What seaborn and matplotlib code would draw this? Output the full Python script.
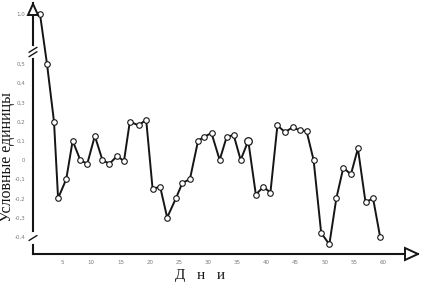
import numpy as np
import pandas as pd
import seaborn as sns
import matplotlib
matplotlib.use("Agg")
import matplotlib.pyplot as plt
from matplotlib.patches import Polygon

# ---- data ----
days = [1.2, 2.4, 3.6, 4.3, 5.7, 6.8, 8.1, 9.3, 10.6, 11.9, 13.1, 14.4, 15.6,
        16.6, 18.1, 19.4, 20.5, 21.8, 23.0, 24.5, 25.6, 26.9, 28.3, 29.3, 30.6,
        32.0, 33.2, 34.4, 35.6, 36.9, 38.2, 39.5, 40.7, 41.9, 43.2, 44.5, 45.7,
        46.9, 48.1, 49.4, 50.8, 52.0, 53.2, 54.5, 55.7, 57.0, 58.3, 59.5]
values = [1.0, 0.5, 0.2, -0.2, -0.1, 0.1, 0.0, -0.02, 0.125, 0.0, -0.02, 0.02, -0.005,
          0.2, 0.18, 0.21, -0.15, -0.14, -0.3, -0.2, -0.12, -0.1, 0.1, 0.12, 0.14,
          0.0, 0.12, 0.13, 0.0, 0.1, -0.18, -0.14, -0.17, 0.18, 0.145, 0.17, 0.155,
          0.15, 0.0, -0.38, -0.44, -0.2, -0.04, -0.075, 0.06, -0.22, -0.2, -0.4]
big_marker_day = [36.9]
big_marker_value = [0.1]
x_ticks = [5, 10, 15, 20, 25, 30, 35, 40, 45, 50, 55, 60]
x_tick_labels = [str(t) for t in x_ticks]
y_ticks = [-0.4, -0.3, -0.2, -0.1, 0.0, 0.1, 0.2, 0.3, 0.4, 0.5, 1.0]
y_tick_labels = ["-0,4", "-0,3", "-0,2", "-0,1", "0", "0,1", "0,2", "0,3", "0,4", "0,5", "1,0"]
y_label = "Условные единицы"
x_label = "Д   н   и"

df = pd.DataFrame({"day": days, "value": values})
df_big = pd.DataFrame({"day": big_marker_day, "value": big_marker_value})

sns.set_style("white")
plt.rcParams["font.family"] = ["DejaVu Sans"]

W, H = 421, 282
fig = plt.figure(figsize=(W / 100, H / 100), dpi=100)
ax = fig.add_axes([33 / W, 28 / H, 385 / W, 251 / H])


def fwd(v):
    v = np.asarray(v, float)
    return np.where(v <= 0.5, v, 0.5 + (v - 0.5) * 0.52)


def inv(t):
    t = np.asarray(t, float)
    return np.where(t <= 0.5, t, 0.5 + (t - 0.5) / 0.52)


ax.set_yscale("function", functions=(fwd, inv))

sns.lineplot(data=df, x="day", y="value", ax=ax, color="#151515", lw=1.4,
             marker="o", markersize=4, markerfacecolor="white",
             markeredgecolor="#151515", markeredgewidth=0.8,
             sort=False, estimator=None)
sns.scatterplot(data=df_big, x="day", y="value", ax=ax, s=30, color="white",
                edgecolor="#151515", linewidth=0.9, zorder=5)

ax.set_xlim(0, 66.0)
ax.set_ylim(-0.49, 1.1115)
ax.set_xticks(x_ticks)
ax.set_xticklabels(x_tick_labels)
ax.set_yticks(y_ticks)
ax.set_yticklabels(y_tick_labels)
ax.set_xlabel("")
ax.set_ylabel("")
ax.minorticks_off()

for s in ["top", "right"]:
    ax.spines[s].set_visible(False)
for s in ["left", "bottom"]:
    ax.spines[s].set_linewidth(1.5)
    ax.spines[s].set_color("#151515")

ax.tick_params(axis="x", direction="in", length=5.5, width=1.3, color="#151515",
               labelsize=4, labelcolor="#7a7a7a", pad=4)
ax.tick_params(axis="y", direction="out", length=4.5, width=1.3, color="#151515",
               labelsize=4, labelcolor="#7a7a7a", pad=1)

# open arrow heads at axis ends
aw, ah = 385.0, 251.0
ytri = Polygon([[0, 1 - 1 / ah], [-5 / aw, 1 - 12 / ah], [5 / aw, 1 - 12 / ah]], closed=True,
               fc="white", ec="#151515", lw=1.4, transform=ax.transAxes,
               clip_on=False, zorder=6)
xtri = Polygon([[1, 0], [1 - 13 / aw, 6 / ah], [1 - 13 / aw, -6 / ah]], closed=True,
               fc="white", ec="#151515", lw=1.4, transform=ax.transAxes,
               clip_on=False, zorder=6)
ax.add_patch(ytri)
ax.add_patch(xtri)

# axis break marks
for ay, n in [((254 - 52) / ah, 2), ((254 - 238) / ah, 1)]:
    ax.plot([0, 0], [ay - 4 / ah, ay + 4 / ah], color="white", lw=3,
            transform=ax.transAxes, clip_on=False, zorder=7)
    offs = [-2.2, 2.2] if n == 2 else [0]
    for o in offs:
        ax.plot([-4 / aw, 4 / aw], [ay + (o - 2.5) / ah, ay + (o + 2.5) / ah],
                color="#151515", lw=1.0, transform=ax.transAxes,
                clip_on=False, zorder=8)

fig.text(7 / W, 1 - 157 / H, y_label, rotation=90, ha="center", va="center",
         family=["Liberation Serif", "DejaVu Serif"], size=11.5, color="#151515")
fig.text(200 / W, 1 - 276 / H, x_label, ha="center", va="center",
         family=["Liberation Serif", "DejaVu Serif"], size=11, color="#151515")

fig.savefig("out.png", dpi=100, facecolor="white")
